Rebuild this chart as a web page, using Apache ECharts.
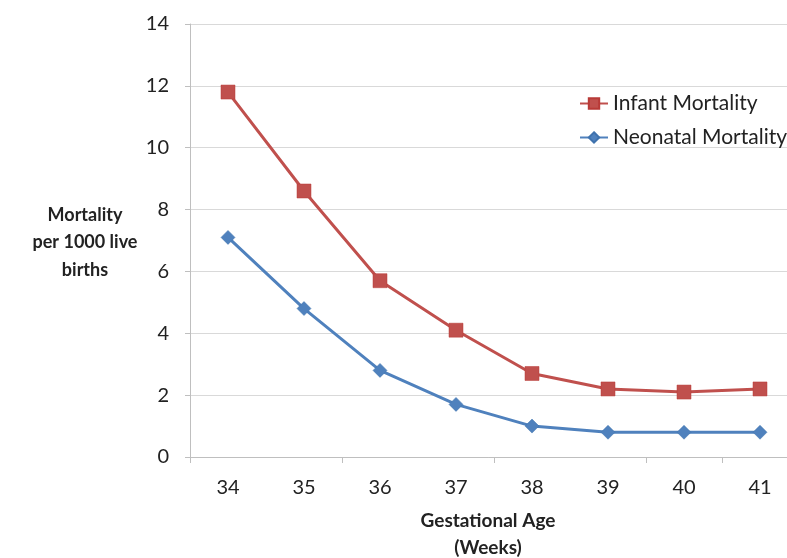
<!DOCTYPE html>
<html>
<head>
<meta charset="utf-8">
<script src="https://cdn.jsdelivr.net/npm/echarts@6/dist/echarts.min.js"></script>
<style>
  html, body { margin: 0; padding: 0; background: #ffffff; }
  #chart { width: 787px; height: 558px; }
</style>
</head>
<body>
<div id="chart"></div>
<script>
// Gestational age (weeks) on the category axis
const weeks = ['34', '35', '36', '37', '38', '39', '40', '41'];
// Deaths per 1000 live births
const infantMortality = [11.8, 8.6, 5.7, 4.1, 2.7, 2.2, 2.1, 2.2];
const neonatalMortality = [7.1, 4.8, 2.8, 1.7, 1.0, 0.8, 0.8, 0.8];
const yTicks = [0, 2, 4, 6, 8, 10, 12, 14];

const FONT = 'Lato, "Open Sans", sans-serif';
const RED = '#C0504D';
const BLUE = '#4F81BD';

const chart = echarts.init(document.getElementById('chart'), null, { renderer: 'canvas' });

chart.setOption({
  backgroundColor: '#ffffff',
  animation: false,
  textStyle: { fontFamily: FONT },
  grid: {
    left: 190, right: -11, top: 24, bottom: 101,
    containLabel: false,
    outerBoundsMode: 'none'
  },
  legend: {
    orient: 'vertical',
    left: 574,
    top: 88,
    itemWidth: 28,
    itemHeight: 13,
    itemGap: 13,
    textStyle: { fontFamily: FONT, fontSize: 21, color: '#222' },
    data: ['Infant Mortality', 'Neonatal Mortality']
  },
  xAxis: {
    type: 'category',
    data: weeks,
    boundaryGap: true,
    axisLine: { lineStyle: { color: '#bfbfbf', width: 1 } },
    axisTick: { show: true, interval: 1, length: 6, lineStyle: { color: '#bfbfbf' } },
    axisLabel: { fontFamily: FONT, fontSize: 20, color: '#222', margin: 21, interval: 0 },
    name: 'Gestational Age\n(Weeks)',
    nameLocation: 'middle',
    nameGap: 50,
    nameTextStyle: {
      fontFamily: FONT, fontSize: 19, fontWeight: 'bold', color: '#222',
      lineHeight: 27, padding: [0, 12, 0, 0]
    }
  },
  yAxis: {
    type: 'value',
    min: yTicks[0],
    max: yTicks[yTicks.length - 1],
    interval: 2,
    axisLine: { show: true, lineStyle: { color: '#bfbfbf', width: 1 } },
    axisTick: { show: true, length: 5, lineStyle: { color: '#bfbfbf' } },
    axisLabel: { fontFamily: FONT, fontSize: 20, color: '#222', margin: 21 },
    splitLine: { show: true, lineStyle: { color: '#d9d9d9', width: 1 } }
  },
  graphic: [{
    type: 'text',
    x: 85,
    y: 201,
    style: {
      text: 'Mortality\nper 1000 live\nbirths',
      fontFamily: FONT,
      fontSize: 18,
      fontWeight: 'bold',
      fill: '#222',
      lineHeight: 27.5,
      align: 'center',
      verticalAlign: 'top'
    }
  }],
  series: [
    {
      name: 'Infant Mortality',
      type: 'line',
      data: infantMortality,
      symbol: 'rect',
      symbolSize: 14,
      lineStyle: { color: RED, width: 3 },
      itemStyle: { color: RED, borderColor: '#b83a37', borderWidth: 0.5 },
      z: 3
    },
    {
      name: 'Neonatal Mortality',
      type: 'line',
      data: neonatalMortality,
      symbol: 'diamond',
      symbolSize: 14,
      lineStyle: { color: BLUE, width: 3 },
      itemStyle: { color: BLUE, borderColor: '#3f72ad', borderWidth: 0.5 },
      z: 2
    }
  ]
});
</script>
</body>
</html>
